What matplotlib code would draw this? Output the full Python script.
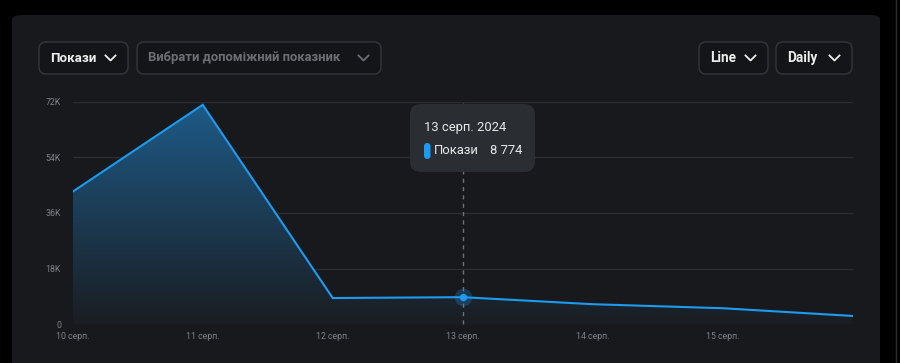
import numpy as np
import matplotlib
matplotlib.use("Agg")
import matplotlib.pyplot as plt
from matplotlib.patches import FancyBboxPatch
from matplotlib.path import Path
from matplotlib.patches import PathPatch
import matplotlib.colors as mcolors

plt.rcParams['font.family'] = ['Roboto', 'DejaVu Sans']

dates = ["10 серп.", "11 серп.", "12 серп.", "13 серп.", "14 серп.", "15 серп.", "16 серп."]
impressions = [42900, 71000, 8500, 8774, 6500, 5200, 2700]
y_ticks = [0, 18000, 36000, 54000, 72000]
y_labels = ["0", "18K", "36K", "54K", "72K"]
x_label_idx = [0, 1, 2, 3, 4, 5]
hover_idx = 3
tooltip_title = "13 серп. 2024"
tooltip_series = "Покази"
tooltip_value = "8 774"

W, H = 900, 363
fig = plt.figure(figsize=(W / 100, H / 100), dpi=100)
fig.patch.set_facecolor("black")

def fx(px):
    return px / W

def fy(py):
    return 1 - py / H

# panel
panel = FancyBboxPatch((fx(12), fy(380)), fx(868), 365 / H,
                       boxstyle="round,pad=0,rounding_size=0.012",
                       transform=fig.transFigure, facecolor="#18191c",
                       edgecolor="none", zorder=-1)
fig.patches.append(panel)
fig.add_artist(plt.Line2D([fx(895.5), fx(895.5)], [0, 1], transform=fig.transFigure,
                          color="#2a2c30", lw=1, zorder=-1))

def button(x0, x1, y0, y1, text, color, size):
    b = FancyBboxPatch((fx(x0), fy(y1)), fx(x1 - x0), (y1 - y0) / H,
                       boxstyle="round,pad=0,rounding_size=0.008",
                       transform=fig.transFigure, facecolor="#141518",
                       edgecolor="#33363b", lw=1, zorder=1,
                       mutation_aspect=W / H)
    fig.patches.append(b)
    fig.text(fx(x0 + 11.5), fy((y0 + y1) / 2), text, color=color, fontsize=size,
             fontweight="bold", va="center", ha="left")
    cx = x1 - 17.5
    cy = (y0 + y1) / 2
    fig.add_artist(plt.Line2D([fx(cx - 5), fx(cx), fx(cx + 5)],
                              [fy(cy - 2.5), fy(cy + 2.5), fy(cy - 2.5)],
                              transform=fig.transFigure, color=color, lw=1.3))

button(39, 128, 42, 74, "Покази", "#eeeeee", 9.6)
button(137, 381, 42, 74, "Вибрати допоміжний показник", "#6b6e73", 9.4)
button(699, 768, 42, 74, "Line", "#eeeeee", 9.8)
button(776, 852, 42, 74, "Daily", "#eeeeee", 9.8)

# axes
ax_left, ax_right, ax_top, ax_bottom = 72.7, 852.7, 101.7, 324.3
ax = fig.add_axes([fx(ax_left), fy(ax_bottom), fx(ax_right - ax_left), (ax_bottom - ax_top) / H])
ax.set_zorder(2)
ax.set_facecolor("none")
x = np.arange(len(impressions))
ax.set_xlim(0, len(impressions) - 1)
ax.set_ylim(0, 72000)

for s in ax.spines.values():
    s.set_visible(False)
for t in y_ticks:
    ax.axhline(t, color="#2b2d31", lw=1, zorder=1)

ax.set_yticks(y_ticks)
ax.set_yticklabels(y_labels)
ax.set_xticks(x_label_idx)
ax.set_xticklabels([dates[i] for i in x_label_idx])
ax.tick_params(axis="both", length=0, colors="#80838a", labelsize=6.3)
ax.tick_params(axis="y", pad=8.4)
ax.tick_params(axis="x", pad=5.5)

# gradient fill
verts = [(x[0], 0)] + list(zip(x, impressions)) + [(x[-1], 0), (x[0], 0)]
codes = [Path.MOVETO] + [Path.LINETO] * (len(verts) - 2) + [Path.CLOSEPOLY]
clip = PathPatch(Path(verts, codes), facecolor="none", edgecolor="none", transform=ax.transData)
ax.add_patch(clip)
cmap = mcolors.LinearSegmentedColormap.from_list("g", ["#1a1d22", "#1e5b88"])
grad = np.linspace(0, 1, 256).reshape(-1, 1)
im = ax.imshow(grad, extent=[x[0], x[-1], 0, 72000], origin="lower", aspect="auto",
               cmap=cmap, zorder=2)
im.set_clip_path(clip)

ax.plot(x, impressions, color="#1d9bf0", lw=1.5, zorder=4, solid_joinstyle="miter")

# hover line and marker
ax.plot([x[hover_idx], x[hover_idx]], [0, 73000], color="#6e7177", lw=1,
        ls=(0, (3, 3)), zorder=3, clip_on=False)
ax.scatter([x[hover_idx]], [impressions[hover_idx]], s=160, color="#1d9bf0", alpha=0.25, zorder=5, lw=0)
ax.scatter([x[hover_idx]], [impressions[hover_idx]], s=28, color="#1d9bf0", zorder=6, lw=0)

# tooltip
tip = FancyBboxPatch((fx(410), fy(172)), fx(125), 68 / H,
                     boxstyle="round,pad=0,rounding_size=0.012",
                     transform=fig.transFigure, facecolor="#2a2d31",
                     edgecolor="none", zorder=10, mutation_aspect=W / H)
fig.patches.append(tip)
fig.text(fx(424), fy(127), tooltip_title, color="#e7e9ea", fontsize=9.4, va="center", ha="left", zorder=11)
pill = FancyBboxPatch((fx(424), fy(159)), fx(6.5), 16 / H,
                      boxstyle="round,pad=0,rounding_size=0.0035",
                      transform=fig.transFigure, facecolor="#1d9bf0", edgecolor="none",
                      zorder=11, mutation_aspect=W / H)
fig.patches.append(pill)
fig.text(fx(434), fy(151), tooltip_series, color="#e7e9ea", fontsize=9.4, va="center", ha="left", zorder=11)
fig.text(fx(490), fy(151), tooltip_value, color="#e7e9ea", fontsize=9.4, va="center", ha="left", zorder=11)

fig.savefig("out.png", dpi=100, facecolor=fig.get_facecolor())
